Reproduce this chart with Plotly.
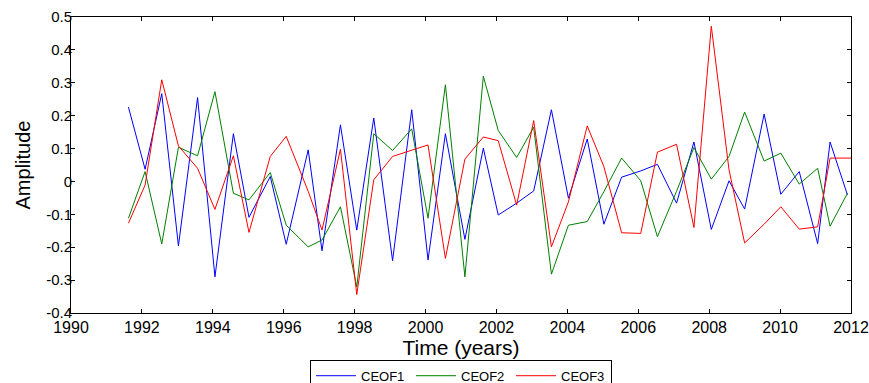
import plotly.graph_objects as go

# Sample times (decimal years)
years = [1991.62, 1992.09, 1992.56, 1993.03, 1993.57, 1994.06, 1994.58, 1995.02,
         1995.62, 1996.07, 1996.69, 1997.08, 1997.60, 1998.06, 1998.54, 1999.07,
         1999.61, 2000.07, 2000.56, 2001.11, 2001.63, 2002.05, 2002.57, 2003.05,
         2003.55, 2004.03, 2004.56, 2005.03, 2005.53, 2006.07, 2006.54, 2007.08,
         2007.57, 2008.06, 2008.56, 2009.00, 2009.55, 2010.02, 2010.54, 2011.06,
         2011.41, 2011.90]

ceof1 = [0.226, 0.037, 0.267, -0.196, 0.255, -0.290, 0.145, -0.109,
         0.015, -0.191, 0.096, -0.211, 0.172, -0.148, 0.193, -0.241,
         0.218, -0.239, 0.145, -0.176, 0.101, -0.102, -0.066, -0.029,
         0.218, -0.051, 0.129, -0.130, 0.013, 0.032, 0.052, -0.066,
         0.120, -0.146, 0.002, -0.084, 0.205, -0.039, 0.030, -0.189,
         0.120, -0.041]

ceof2 = [-0.112, 0.030, -0.190, 0.104, 0.078, 0.273, -0.036, -0.056,
         0.027, -0.133, -0.199, -0.178, -0.077, -0.321, 0.145, 0.094,
         0.160, -0.112, 0.294, -0.290, 0.320, 0.155, 0.073, 0.165,
         -0.282, -0.133, -0.122, -0.031, 0.071, 0.002, -0.168, -0.030,
         0.103, 0.007, 0.076, 0.211, 0.062, 0.086, -0.008, 0.040,
         -0.136, -0.036]

ceof3 = [-0.127, -0.011, 0.309, 0.108, 0.040, -0.085, 0.078, -0.155,
         0.076, 0.137, -0.030, -0.148, 0.098, -0.344, 0.005, 0.076,
         0.095, 0.111, -0.234, 0.068, 0.135, 0.124, -0.072, 0.185,
         -0.199, -0.062, 0.169, 0.045, -0.156, -0.158, 0.089, 0.113,
         -0.140, 0.472, 0.035, -0.187, -0.130, -0.077, -0.145, -0.138,
         0.071, 0.071]

x_ticks = list(range(1990, 2013, 2))
y_ticks = [-0.4, -0.3, -0.2, -0.1, 0, 0.1, 0.2, 0.3, 0.4, 0.5]
y_tick_labels = ["-0.4", "-0.3", "-0.2", "-0.1", "0", "0.1", "0.2", "0.3", "0.4", "0.5"]

series = [("CEOF1", ceof1, "#0000FF"),
          ("CEOF2", ceof2, "#008000"),
          ("CEOF3", ceof3, "#FF0000")]

FONT = "Liberation Sans, Arial, sans-serif"

fig = go.Figure()
for name, vals, color in series:
    xs = list(years)
    ys = list(vals)
    if name == "CEOF3":
        # last red sample holds flat to the right edge
        xs = xs + [2012.0]
        ys = ys + [vals[-1]]
    fig.add_trace(go.Scatter(x=xs, y=ys, mode="lines", name=name,
                             line=dict(color=color, width=1)))

fig.update_layout(
    width=869, height=383,
    margin=dict(l=71, r=18, t=17, b=70, autoexpand=False),
    paper_bgcolor="white", plot_bgcolor="white",
    font=dict(family=FONT, color="black"),
    showlegend=True,
    legend=dict(orientation="h", x=0.5, xanchor="center", y=-0.158, yanchor="top",
                bordercolor="black", borderwidth=1, bgcolor="white",
                font=dict(family=FONT, size=13, color="black"),
                itemwidth=40, entrywidth=45, entrywidthmode="pixels",
                tracegroupgap=0),
)

fig.update_xaxes(range=[1990, 2012], tickvals=x_ticks, ticktext=[str(t) for t in x_ticks],
                 showgrid=False, zeroline=False, showline=True, linecolor="black", linewidth=1,
                 mirror="allticks", ticks="inside", ticklen=4, tickcolor="black",
                 tickfont=dict(family=FONT, size=16, color="black"),
                 title=dict(text="Time (years)", font=dict(family=FONT, size=21, color="black"),
                            standoff=2))
fig.update_yaxes(range=[-0.4, 0.5], tickvals=y_ticks, ticktext=y_tick_labels,
                 showgrid=False, zeroline=False, showline=True, linecolor="black", linewidth=1,
                 mirror="allticks", ticks="inside", ticklen=4, tickcolor="black",
                 tickfont=dict(family=FONT, size=15, color="black"),
                 ticklabelstandoff=-5,
                 title=dict(text="Amplitude", font=dict(family=FONT, size=20, color="black"),
                            standoff=10))

fig.write_html("out.html")
